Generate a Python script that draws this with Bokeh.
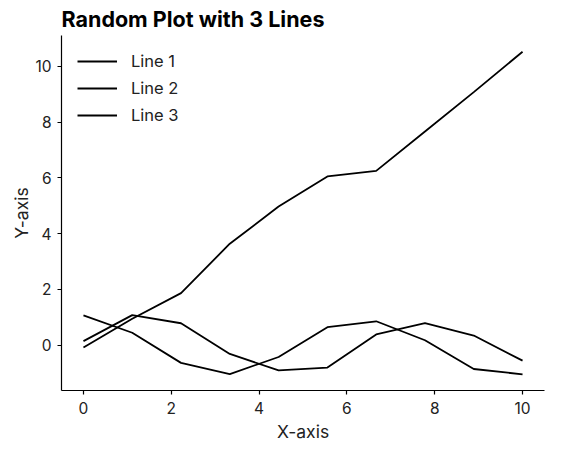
from bokeh.plotting import figure
from bokeh.models import Range1d, FixedTicker, Legend, LegendItem
from bokeh.embed import file_html
from bokeh.resources import INLINE

x_values = [0.0, 1.111, 2.222, 3.333, 4.444, 5.556, 6.667, 7.778, 8.889, 10.0]
line1 = [-0.08, 0.95, 1.87, 3.64, 4.97, 6.05, 6.25, 7.66, 9.07, 10.52]
line2 = [0.15, 1.08, 0.79, -0.31, -0.90, -0.80, 0.39, 0.79, 0.35, -0.55]
line3 = [1.07, 0.45, -0.63, -1.03, -0.42, 0.65, 0.86, 0.18, -0.85, -1.04]
series_names = ["Line 1", "Line 2", "Line 3"]
tick_values = [0, 2, 4, 6, 8, 10]
x_label = "X-axis"
y_label = "Y-axis"

FONT = "Inter"

p = figure(width=553, height=451, output_backend="svg", toolbar_location=None,
           title="Random Plot with 3 Lines",
           x_range=Range1d(-0.5, 10.5), y_range=Range1d(-1.62, 11.1),
           min_border_left=61, min_border_right=9, min_border_bottom=61, min_border_top=5)

p.title.text_font = FONT
p.title.text_font_size = "21.5px"
p.title.text_font_style = "bold"
p.title.text_color = "black"
p.title.standoff = 7

p.outline_line_color = None
p.xgrid.visible = False
p.ygrid.visible = False

for ax in (p.xaxis[0], p.yaxis[0]):
    ax.ticker = FixedTicker(ticks=tick_values)
    ax.minor_tick_line_color = None
    ax.major_tick_in = 0
    ax.major_tick_out = 4
    ax.axis_line_color = "black"
    ax.axis_line_width = 1.2
    ax.major_tick_line_width = 1.2
    ax.major_label_text_font = FONT
    ax.major_label_text_font_size = "15.5px"
    ax.major_label_text_color = "#222222"
    ax.axis_label_text_font = FONT
    ax.axis_label_text_font_size = "17.5px"
    ax.axis_label_text_font_style = "normal"
    ax.axis_label_text_color = "#222222"

p.xaxis.axis_label = x_label
p.yaxis.axis_label = y_label
p.yaxis.axis_label_standoff = 0
p.xaxis.axis_label_standoff = 4
p.xaxis.major_label_standoff = 7
p.yaxis.major_label_standoff = 6

items = []
for name, ys in zip(series_names, [line1, line2, line3]):
    r = p.line(x_values, ys, line_color="black", line_width=1.8)
    items.append(LegendItem(label=name, renderers=[r]))

legend = Legend(items=items, location="top_left")
legend.border_line_color = None
legend.background_fill_alpha = 0
legend.label_text_font = FONT
legend.label_text_font_size = "16.5px"
legend.label_text_color = "#222222"
legend.glyph_width = 40
legend.glyph_height = 20
legend.label_standoff = 14
legend.spacing = 7
legend.margin = 16
legend.padding = 6
p.add_layout(legend)

open("out.html", "w").write(file_html(p, INLINE))
